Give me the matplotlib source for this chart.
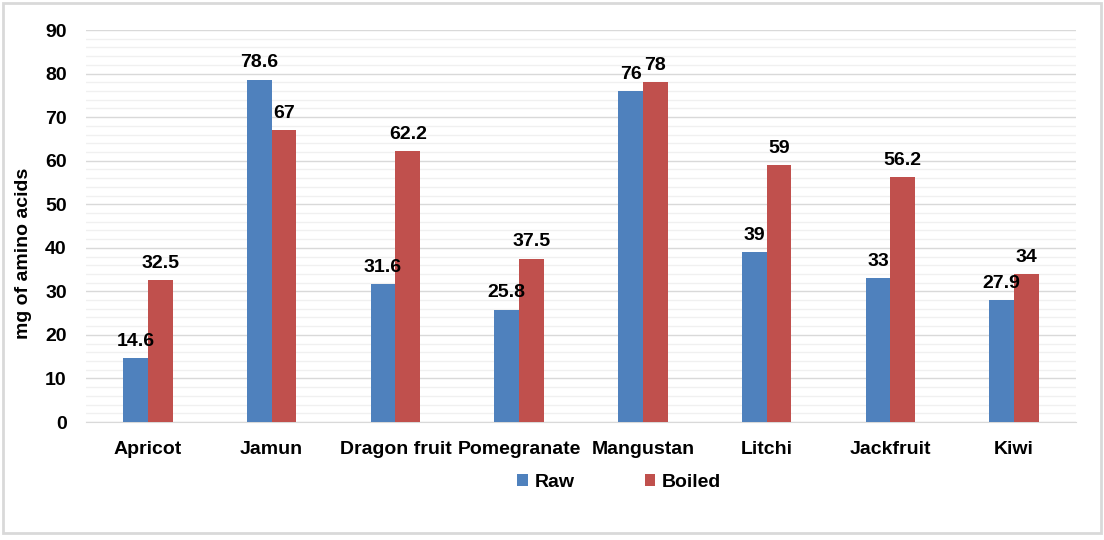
import matplotlib.pyplot as plt
from matplotlib.patches import Rectangle
from matplotlib.ticker import MultipleLocator
import numpy as np

fruits = ["Apricot", "Jamun", "Dragon fruit", "Pomegranate", "Mangustan", "Litchi", "Jackfruit", "Kiwi"]
raw = [14.6, 78.6, 31.6, 25.8, 76, 39, 33, 27.9]
boiled = [32.5, 67, 62.2, 37.5, 78, 59, 56.2, 34]

plt.rcParams['font.family'] = ['Liberation Sans', 'DejaVu Sans']
plt.rcParams['font.weight'] = 'bold'

fig = plt.figure(figsize=(11.04, 5.40), dpi=100)
ax = fig.add_axes([0.078, 0.2185, 0.8966, 0.7259])

x = np.arange(len(fruits))
w = 0.2
b1 = ax.bar(x - w/2, raw, w, color='#4f81bd', label='Raw', zorder=3)
b2 = ax.bar(x + w/2, boiled, w, color='#c0504d', label='Boiled', zorder=3)
ax.bar_label(b1, labels=[f'{v:g}' for v in raw], padding=6, fontsize=14, fontweight='bold')
ax.bar_label(b2, labels=[f'{v:g}' for v in boiled], padding=6, fontsize=14, fontweight='bold')

ax.set_xlim(-0.5, len(fruits) - 0.5)
ax.set_ylim(0, 90)
ax.yaxis.set_major_locator(MultipleLocator(10))
ax.yaxis.set_minor_locator(MultipleLocator(2))
ax.grid(axis='y', which='major', color='#d9d9d9', lw=1, zorder=0)
ax.grid(axis='y', which='minor', color='#f0f0f0', lw=1, zorder=0)
for s in ['top', 'right', 'left']:
    ax.spines[s].set_visible(False)
ax.spines['bottom'].set_color('#d9d9d9')
ax.tick_params(which='both', length=0)
ax.tick_params(axis='y', pad=14, labelsize=14)
ax.tick_params(axis='x', pad=14, labelsize=14)
ax.set_xticks(x)
ax.set_xticklabels(fruits, fontweight='bold')
for t in ax.get_yticklabels():
    t.set_fontweight('bold')
ax.set_ylabel('mg of amino acids', fontsize=14, fontweight='bold')
ax.yaxis.set_label_coords(-0.055, 0.43)

fig.legend(handles=[b1, b2], loc='center', bbox_to_anchor=(0.561, 0.107), ncol=2,
           frameon=False, fontsize=14, handlelength=0.55, handleheight=0.55,
           columnspacing=3.6, handletextpad=0.35)

fig.patches.append(Rectangle((0.003, 0.013), 0.994, 0.982, transform=fig.transFigure,
                             fill=False, edgecolor='#d9d9d9', lw=2))

fig.savefig('out.png', dpi=100)
